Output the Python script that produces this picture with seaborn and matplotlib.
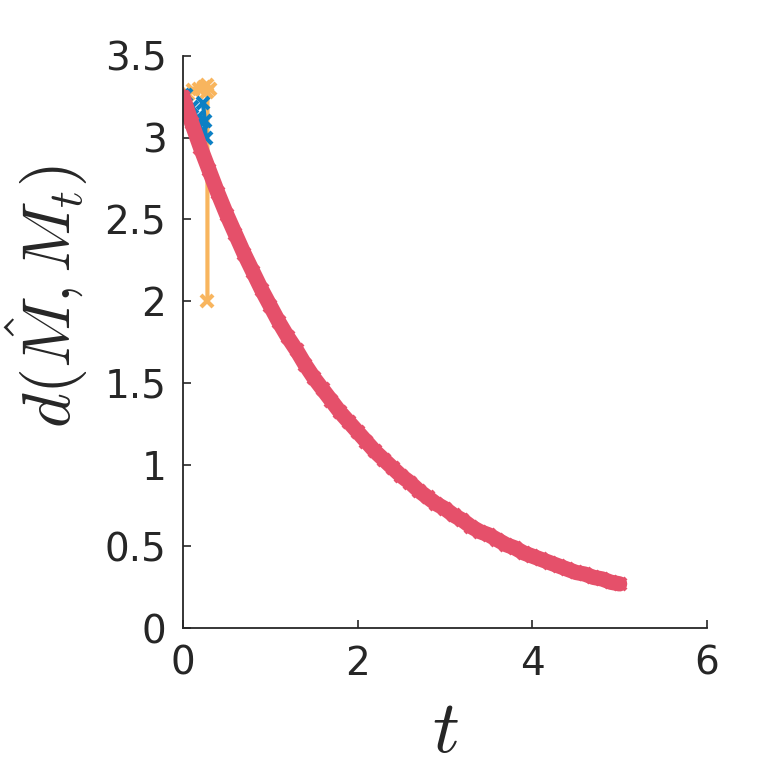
import numpy as np
import pandas as pd
import matplotlib
matplotlib.use("Agg")
import matplotlib.pyplot as plt
from matplotlib.ticker import FuncFormatter
import seaborn as sns

# series
red_t = [0.0, 0.1, 0.2, 0.3, 0.4, 0.5, 0.6, 0.7, 0.8, 0.9,
         1.0, 1.1, 1.2, 1.3, 1.4, 1.5, 1.6, 1.7, 1.8, 1.9,
         2.0, 2.1, 2.2, 2.3, 2.4, 2.5, 2.6, 2.7, 2.8, 2.9,
         3.0, 3.1, 3.2, 3.3, 3.4, 3.5, 3.6, 3.7, 3.8, 3.9,
         4.0, 4.1, 4.2, 4.3, 4.4, 4.5, 4.6, 4.7, 4.8, 4.9, 5.0]
red_d = [3.25, 3.09, 2.94, 2.80, 2.66, 2.53, 2.41, 2.29, 2.18, 2.07,
         1.97, 1.87, 1.78, 1.70, 1.61, 1.53, 1.46, 1.39, 1.32, 1.26,
         1.20, 1.14, 1.08, 1.03, 0.98, 0.93, 0.89, 0.84, 0.80, 0.76,
         0.73, 0.69, 0.66, 0.62, 0.59, 0.57, 0.54, 0.51, 0.49, 0.46,
         0.44, 0.42, 0.40, 0.38, 0.36, 0.34, 0.33, 0.31, 0.30, 0.28, 0.27]

blue_t = [0.0, 0.04, 0.10, 0.16, 0.22, 0.26, 0.25, 0.23]
blue_d = [3.26, 3.26, 3.19, 3.12, 3.04, 3.00, 3.10, 3.21]

orange_t = [0.0, 0.06, 0.12, 0.18, 0.24, 0.28, 0.31, 0.28, 0.28]
orange_d = [3.25, 3.27, 3.29, 3.30, 3.31, 3.32, 3.30, 3.28, 2.00]

red_c = "#E5506A"
blue_c = "#0C80C4"
orange_c = "#F8B55E"

sns.set_theme(style="white")
plt.rcParams["mathtext.fontset"] = "cm"
plt.rcParams["font.family"] = ["DejaVu Sans"]

fig = plt.figure(figsize=(7.81, 7.81), dpi=100)
ax = fig.add_axes([0.2343, 0.1959, 0.6709, 0.7324])

sns.lineplot(x=orange_t, y=orange_d, sort=False, estimator=None, ax=ax,
             color=orange_c, lw=3, marker="x", markersize=8, mew=3, mec=orange_c)
sns.lineplot(x=blue_t, y=blue_d, sort=False, estimator=None, ax=ax,
             color=blue_c, lw=3, marker="x", markersize=8, mew=3, mec=blue_c)
sns.lineplot(x=red_t, y=red_d, sort=False, estimator=None, ax=ax,
             color=red_c, lw=11, marker="x", markersize=8, mew=3, mec=red_c)

ax.set_xlim(0, 6)
ax.set_ylim(0, 3.5)
ax.set_xticks([0, 2, 4, 6])
ax.set_yticks(np.arange(0, 3.51, 0.5))
ax.yaxis.set_major_formatter(FuncFormatter(lambda v, p: "%g" % v))
ax.xaxis.set_major_formatter(FuncFormatter(lambda v, p: "%g" % v))

for s in ["top", "right"]:
    ax.spines[s].set_visible(False)
for s in ["left", "bottom"]:
    ax.spines[s].set_color("#262626")
    ax.spines[s].set_linewidth(1.3)

ax.tick_params(direction="in", length=6, width=1.2, colors="#262626",
               labelsize=28, left=True, bottom=True)
ax.tick_params(axis="y", pad=12)
ax.tick_params(axis="x", pad=12)

ax.set_xlabel(r"$t$", fontsize=54, labelpad=9, color="#262626")
ax.set_ylabel(r"$d(\hat{M},M_t)$", fontsize=48, color="#262626")
ax.yaxis.set_label_coords(-0.177, 0.579)

fig.savefig("out.png", dpi=100, facecolor="white")
